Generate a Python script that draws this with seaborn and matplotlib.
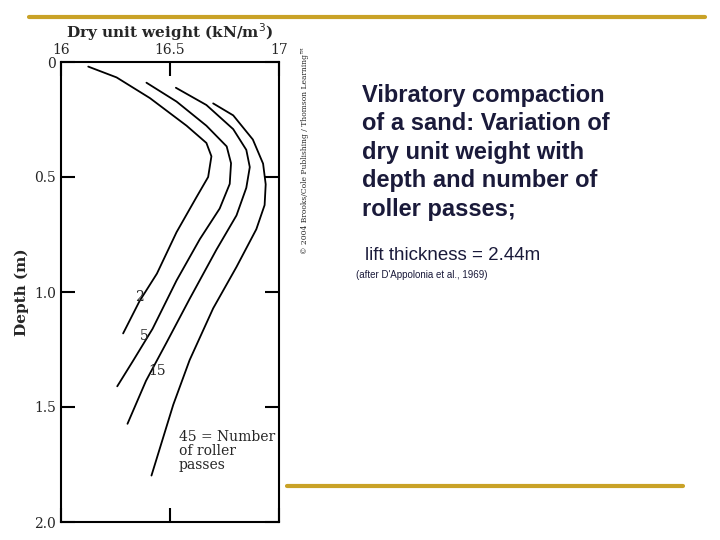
import matplotlib
matplotlib.use("Agg")
import matplotlib.pyplot as plt
import seaborn as sns
import pandas as pd

sns.set_theme(style="white")
plt.rcParams['font.family'] = ['DejaVu Serif']

x2 = [16.125, 16.255, 16.408, 16.576, 16.667, 16.69, 16.675, 16.62, 16.53, 16.44, 16.36, 16.285]
d2 = [0.02, 0.067, 0.157, 0.277, 0.352, 0.41, 0.50, 0.59, 0.74, 0.92, 1.04, 1.18]
x5 = [16.392, 16.53, 16.667, 16.76, 16.78, 16.774, 16.728, 16.637, 16.53, 16.42, 16.33, 16.258]
d5 = [0.09, 0.172, 0.277, 0.367, 0.44, 0.53, 0.637, 0.77, 0.95, 1.16, 1.30, 1.41]
x15 = [16.527, 16.667, 16.79, 16.85, 16.866, 16.85, 16.805, 16.713, 16.59, 16.484, 16.39, 16.305]
d15 = [0.112, 0.187, 0.292, 0.382, 0.457, 0.547, 0.667, 0.816, 1.03, 1.22, 1.386, 1.573]
x45 = [16.698, 16.79, 16.88, 16.927, 16.939, 16.934, 16.896, 16.805, 16.698, 16.59, 16.515, 16.415]
d45 = [0.18, 0.232, 0.337, 0.442, 0.532, 0.622, 0.727, 0.891, 1.071, 1.296, 1.49, 1.798]

rows = []
for name, xs, ds in [("2", x2, d2), ("5", x5, d5), ("15", x15, d15), ("45", x45, d45)]:
    for i, (a, b) in enumerate(zip(xs, ds)):
        rows.append({"passes": name, "w": a, "d": b, "i": i})
df = pd.DataFrame(rows)

fig = plt.figure(figsize=(7.2, 5.4), dpi=100)
ax = fig.add_axes([61/720, 1-522/540, 218/720, 460/540])
sns.lineplot(data=df, x="w", y="d", units="passes", estimator=None, sort=False,
             color="black", lw=1.3, ax=ax)
ax.set_xlim(16, 17)
ax.set_ylim(2.0, 0)
ax.xaxis.tick_top()
ax.xaxis.set_label_position("top")
ax.set_xticks([16, 16.5, 17])
ax.set_xticklabels(["16", "16.5", "17"])
ax.set_yticks([0, 0.5, 1.0, 1.5, 2.0])
ax.set_yticklabels(["0", "0.5", "1.0", "1.5", "2.0"])
ax.tick_params(direction="in", length=10, width=1.5, labelsize=10, top=True, bottom=True, left=True, right=True, color="black")
ax.set_xlabel("Dry unit weight (kN/m$^3$)", fontsize=11, fontweight="bold", labelpad=4)
ax.set_ylabel("Depth (m)", fontsize=11, fontweight="bold")
for s in ax.spines.values():
    s.set_color("black"); s.set_linewidth(1.5)
ax.text(16.34, 1.04, "2", fontsize=10)
ax.text(16.36, 1.21, "5", fontsize=10)
ax.text(16.40, 1.36, "15", fontsize=10)
ax.text(16.54, 1.60, "45 = Number\nof roller\npasses", fontsize=10, va="top", linespacing=1.0)

gold = "#C9A227"
fig.add_artist(plt.Line2D([29/720, 705/720], [1-17/540, 1-17/540], color=gold, lw=3))
fig.add_artist(plt.Line2D([287/720, 683/720], [1-486/540, 1-486/540], color=gold, lw=3))
fig.text(305/720, 1-150/540, "© 2004 Brooks/Cole Publishing / Thomson Learning™", rotation=90,
         fontsize=5.5, ha="center", va="center")
fig.text(362/720, 1-84/540, "Vibratory compaction\nof a sand: Variation of\ndry unit weight with\ndepth and number of\nroller passes;",
         fontsize=17, family="Liberation Sans", fontweight="bold", color="#1a1a3a", va="top", linespacing=1.3)
fig.text(365/720, 1-256/540, "lift thickness = 2.44m", fontsize=13.5, family="Liberation Sans", color="#1a1a3a", va="center")
fig.text(356/720, 1-275/540, "(after D'Appolonia et al., 1969)", fontsize=7, family="Liberation Sans", color="#1a1a3a", va="center")
fig.savefig("out.png", dpi=100)
